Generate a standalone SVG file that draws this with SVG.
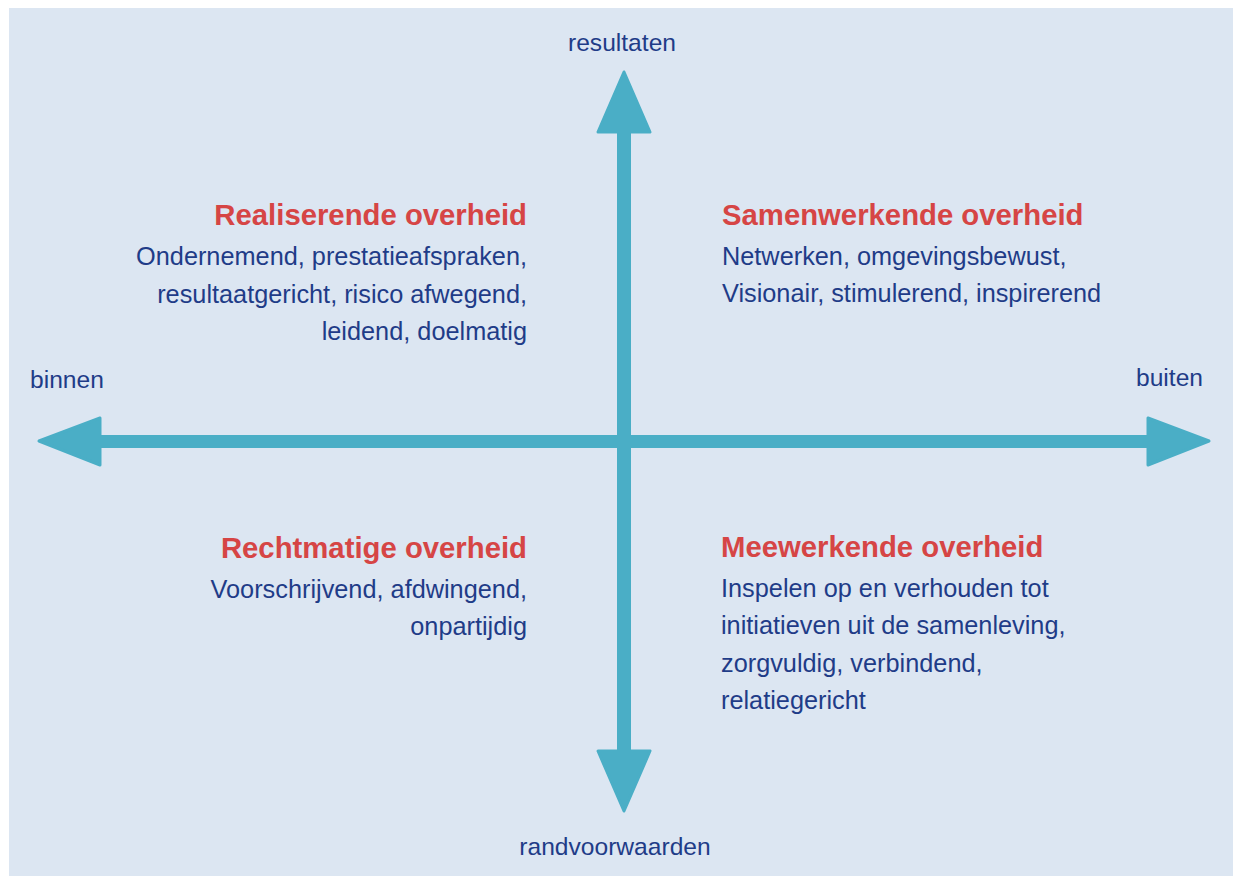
<svg xmlns="http://www.w3.org/2000/svg" width="1233" height="876" viewBox="0 0 1233 876">
<style>
.t{font-family:"Liberation Sans",Arial,sans-serif;fill:#1f3c88;font-size:25.3px}
.h{font-family:"Liberation Sans",Arial,sans-serif;fill:#d64545;font-size:29.3px;font-weight:bold}
.a{font-family:"Liberation Sans",Arial,sans-serif;fill:#1f3c88;font-size:24.6px}
.r{text-anchor:end}
.ax{fill:#4aaec6;stroke:#4aaec6;stroke-linejoin:round;stroke-width:3}
</style>
<rect x="9" y="8" width="1224" height="868" fill="#dce6f2"/>
<g id="connectors">
<rect x="617" y="125" width="14" height="632" fill="#4aaec6"/>
<rect x="95" y="435" width="1058" height="13" fill="#4aaec6"/>
<polygon class="ax" points="624,72 650,132 598,132"/>
<polygon class="ax" points="624,811 650,751 598,751"/>
<polygon class="ax" points="39,441 100,418 100,465"/>
<polygon class="ax" points="1209,441 1148,418 1148,465"/>
</g>
<g id="axis-labels">
<text class="a" x="622" y="51" text-anchor="middle">resultaten</text>
<text class="a" x="30" y="388">binnen</text>
<text class="a r" x="1203" y="386">buiten</text>
<text class="a" x="615" y="855" text-anchor="middle">randvoorwaarden</text>
</g>
<g id="realiserende">
<text class="h r" x="527" y="225">Realiserende overheid</text>
<text class="t r" x="527" y="265">Ondernemend, prestatieafspraken,</text>
<text class="t r" x="527" y="303">resultaatgericht, risico afwegend,</text>
<text class="t r" x="527" y="340">leidend, doelmatig</text>
</g>
<g id="samenwerkende">
<text class="h" x="722" y="225">Samenwerkende overheid</text>
<text class="t" x="722" y="265">Netwerken, omgevingsbewust,</text>
<text class="t" x="722" y="302">Visionair, stimulerend, inspirerend</text>
</g>
<g id="rechtmatige">
<text class="h r" x="527" y="558">Rechtmatige overheid</text>
<text class="t r" x="527" y="598">Voorschrijvend, afdwingend,</text>
<text class="t r" x="527" y="635">onpartijdig</text>
</g>
<g id="meewerkende">
<text class="h" x="721" y="557">Meewerkende overheid</text>
<text class="t" x="721" y="597">Inspelen op en verhouden tot</text>
<text class="t" x="721" y="634">initiatieven uit de samenleving,</text>
<text class="t" x="721" y="672">zorgvuldig, verbindend,</text>
<text class="t" x="721" y="709">relatiegericht</text>
</g>
</svg>
